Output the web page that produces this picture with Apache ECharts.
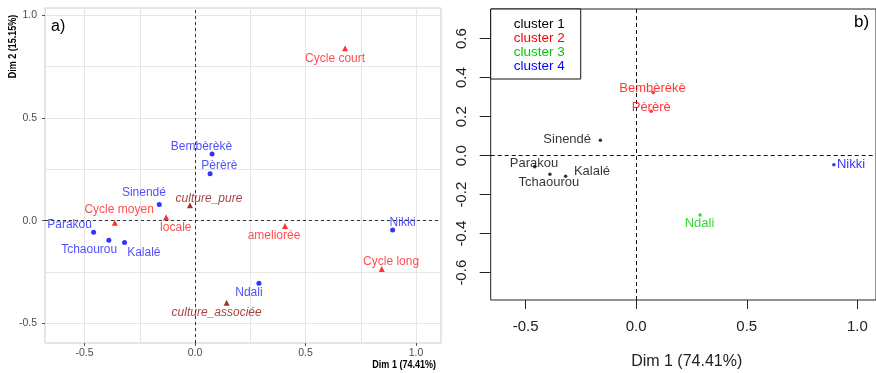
<!DOCTYPE html>
<html>
<head>
<meta charset="utf-8">
<script src="https://cdn.jsdelivr.net/npm/echarts@6/dist/echarts.min.js"></script>
<style>
  html, body { margin: 0; padding: 0; background: #ffffff; }
  #chart { width: 876px; height: 373px; }
</style>
</head>
<body>
<div id="chart"></div>
<script>
// Communes (individus) sur les dimensions 1 et 2
const individus = ['Parakou', 'Tchaourou', 'Kalalé', 'Sinendé', 'Bembèrèkè', 'Pèrèrè', 'Nikki', 'Ndali'];
const dim1Ind = [-0.459, -0.390, -0.319, -0.162, 0.077, 0.068, 0.894, 0.289];
const dim2Ind = [-0.057, -0.095, -0.106, 0.079, 0.324, 0.228, -0.046, -0.304];
const clusterInd = [1, 1, 1, 1, 2, 2, 4, 3];

// Modalités actives
const modalites = ['Cycle court', 'Cycle moyen', 'Cycle long', 'locale', 'ameliorée'];
const dim1Mod = [0.679, -0.363, 0.845, -0.131, 0.407];
const dim2Mod = [0.838, -0.010, -0.235, 0.017, -0.026];

// Modalités supplémentaires
const modalitesSup = ['culture_pure', 'culture_associée'];
const dim1Sup = [-0.023, 0.143];
const dim2Sup = [0.075, -0.399];

const clusters = ['cluster 1', 'cluster 2', 'cluster 3', 'cluster 4'];

// Graduations
const ticksAx = [-0.5, 0, 0.5, 1.0];
const ticksAy = [-0.5, 0, 0.5, 1.0];
const gridAx = [-0.5, -0.25, 0, 0.25, 0.5, 0.75, 1.0];
const gridAy = [-0.5, -0.25, 0, 0.25, 0.5, 0.75, 1.0];
const ticksBx = [-0.5, 0, 0.5, 1.0];
const ticksBy = [-0.6, -0.4, -0.2, 0, 0.2, 0.4, 0.6];

// ---- styles ----
const FONT = "'Liberation Sans', Arial, sans-serif";
const clusterColors = ['#000000', '#ff0000', '#00cd00', '#0000ff'];

// label offsets (px) around each mark, panel a
const placeA = {
  'Cycle court': [-10, 10.4], 'Bembèrèkè': [-10.6, -7.6], 'Pèrèrè': [9.3, -7.7],
  'Sinendé': [-15.3, -11.7], 'culture_pure': [19, -6.3], 'Cycle moyen': [4.3, -13.4],
  'locale': [9.7, 11], 'Parakou': [-24, -7.7], 'Tchaourou': [-19.7, 10],
  'Kalalé': [19.3, 10.3], 'ameliorée': [-11, 9.7], 'Nikki': [10, -7.7],
  'Cycle long': [9.3, -7], 'Ndali': [-10, 10], 'culture_associée': [-10, 10.3]
};
// label alignment and offsets, panel b
const placeB = {
  'Parakou': ['center', -0.7, -3.4], 'Tchaourou': ['center', -1, 8.4],
  'Kalalé': ['left', 8.3, -4.7], 'Sinendé': ['right', -9.3, -0.7],
  'Bembèrèkè': ['center', -0.7, -4], 'Pèrèrè': ['center', 0, -4],
  'Nikki': ['left', 3, 0], 'Ndali': ['center', -0.6, 8.6]
};

const fmt1 = v => (Math.abs(v) < 1e-9 ? 0 : v).toFixed(1);

function pointsA(names, xs, ys) {
  return names.map((n, i) => ({
    name: n,
    value: [xs[i], ys[i]],
    label: { offset: placeA[n] }
  }));
}

function refLines(xs, ys) {
  return xs.map(v => ({ xAxis: v })).concat(ys.map(v => ({ yAxis: v })));
}

function labelStyle(color, size, extra) {
  return Object.assign({
    show: true, position: 'inside', formatter: '{b}', color: color,
    fontSize: size, fontFamily: FONT, align: 'center', verticalAlign: 'middle',
    textBorderWidth: 0, textBorderColor: 'transparent', textShadowBlur: 0
  }, extra || {});
}

const series = [];

// panel a : grille
series.push({
  type: 'scatter', xAxisIndex: 0, yAxisIndex: 0, data: [], z: 1, silent: true,
  markLine: {
    z: 1, silent: true, symbol: 'none', label: { show: false }, animation: false,
    lineStyle: { color: '#e6e6e6', type: 'solid', width: 1 },
    data: refLines(gridAx, gridAy)
  }
});
// panel a : axes pointillés
series.push({
  type: 'scatter', xAxisIndex: 0, yAxisIndex: 0, data: [], z: 2, silent: true,
  markLine: {
    z: 2, silent: true, symbol: 'none', label: { show: false }, animation: false,
    lineStyle: { color: '#333333', type: [3, 3], width: 1 },
    data: refLines([0], [0])
  }
});
// panel a : individus
series.push({
  name: 'individus', type: 'scatter', xAxisIndex: 0, yAxisIndex: 0, z: 3,
  symbol: 'circle', symbolSize: 5,
  itemStyle: { color: '#0000ff' },
  label: labelStyle('#1f1fff', 12),
  data: pointsA(individus, dim1Ind, dim2Ind)
});
// panel a : modalités actives
series.push({
  name: 'modalites', type: 'scatter', xAxisIndex: 0, yAxisIndex: 0, z: 3,
  symbol: 'triangle', symbolSize: 6,
  itemStyle: { color: '#ff0000' },
  label: labelStyle('#ff1f1f', 12),
  data: pointsA(modalites, dim1Mod, dim2Mod)
});
// panel a : modalités supplémentaires
series.push({
  name: 'supplementaires', type: 'scatter', xAxisIndex: 0, yAxisIndex: 0, z: 3,
  symbol: 'triangle', symbolSize: 6,
  itemStyle: { color: '#8b0000' },
  label: labelStyle('#8b1010', 12, { fontStyle: 'italic' }),
  data: pointsA(modalitesSup, dim1Sup, dim2Sup)
});

// panel b : axes pointillés
series.push({
  type: 'scatter', xAxisIndex: 1, yAxisIndex: 1, data: [], z: 2, silent: true,
  markLine: {
    z: 2, silent: true, symbol: 'none', label: { show: false }, animation: false,
    lineStyle: { color: '#111111', type: [4, 3], width: 1 },
    data: refLines([0], [0])
  }
});
// panel b : communes par cluster
clusters.forEach((c, k) => {
  const data = [];
  individus.forEach((n, i) => {
    if (clusterInd[i] !== k + 1) return;
    const p = placeB[n];
    data.push({ name: n, value: [dim1Ind[i], dim2Ind[i]],
                label: { align: p[0], offset: [p[1], p[2]] } });
  });
  series.push({
    name: c, type: 'scatter', xAxisIndex: 1, yAxisIndex: 1, z: 3,
    symbol: 'circle', symbolSize: 3.5,
    itemStyle: { color: clusterColors[k] },
    label: labelStyle(clusterColors[k], 13),
    data: data
  });
});

const option = {
  animation: false,
  backgroundColor: '#ffffff',
  textStyle: { fontFamily: FONT },
  grid: [
    { left: 45, top: 8, width: 396, height: 335, show: true,
      borderColor: '#cccccc', borderWidth: 1, backgroundColor: 'transparent' },
    { left: 490.7, top: 9, width: 392, height: 291, show: true,
      borderColor: '#222222', borderWidth: 1, backgroundColor: 'transparent' }
  ],
  xAxis: [
    { type: 'value', gridIndex: 0, min: -0.679, max: 1.113, position: 'bottom',
      axisLine: { show: false, onZero: false },
      axisTick: { show: true, customValues: ticksAx, length: 3, lineStyle: { color: '#555555' } },
      axisLabel: { customValues: ticksAx, formatter: fmt1, color: '#4d4d4d', fontSize: 10.5, margin: 5 },
      splitLine: { show: false } },
    { type: 'value', gridIndex: 1, min: -0.6578, max: 1.0844, position: 'bottom',
      axisLine: { show: false, onZero: false },
      axisTick: { show: true, customValues: ticksBx, length: 9, lineStyle: { color: '#222222' } },
      axisLabel: { customValues: ticksBx, formatter: fmt1, color: '#222222', fontSize: 15, margin: 19 },
      splitLine: { show: false } }
  ],
  yAxis: [
    { type: 'value', gridIndex: 0, min: -0.595, max: 1.034, position: 'left',
      axisLine: { show: false, onZero: false },
      axisTick: { show: true, customValues: ticksAy, length: 3, lineStyle: { color: '#555555' } },
      axisLabel: { customValues: ticksAy, formatter: fmt1, color: '#4d4d4d', fontSize: 10.5, margin: 8 },
      splitLine: { show: false } },
    { type: 'value', gridIndex: 1, min: -0.740, max: 0.7523, position: 'left',
      axisLine: { show: false, onZero: false },
      axisTick: { show: true, customValues: ticksBy, length: 11, lineStyle: { color: '#222222' } },
      axisLabel: { customValues: ticksBy, formatter: fmt1, color: '#222222', fontSize: 15,
                   rotate: 90, margin: 21 },
      splitLine: { show: false } }
  ],
  legend: {
    data: clusters.map((c, k) => ({ name: c, icon: 'none', textStyle: { color: clusterColors[k] } })),
    orient: 'vertical', left: 490.7, top: 9,
    itemWidth: 0, itemHeight: 10, itemGap: 0,
    textStyle: { fontSize: 13.5, lineHeight: 13.8, fontFamily: FONT },
    padding: [8, 16, 6, 18],
    borderColor: '#111111', borderWidth: 1, backgroundColor: '#ffffff',
    selectedMode: false
  },
  graphic: [
    { type: 'text', left: 51, top: 19, silent: true,
      style: { text: 'a)', fontSize: 16, fontFamily: FONT, fill: '#000000' } },
    { type: 'text', left: 854, top: 14, silent: true,
      style: { text: 'b)', fontSize: 17, fontFamily: FONT, fill: '#000000' } },
    { type: 'text', x: 13, y: 46.5, rotation: Math.PI / 2, scaleX: 0.82, silent: true,
      style: { text: 'Dim 2 (15.15%)', fontSize: 11, fontWeight: 'bold', fontFamily: FONT,
               fill: '#000000', align: 'center', verticalAlign: 'middle' } },
    { type: 'text', x: 436, y: 365, scaleX: 0.82, silent: true,
      style: { text: 'Dim 1 (74.41%)', fontSize: 11, fontWeight: 'bold', fontFamily: FONT,
               fill: '#000000', align: 'right', verticalAlign: 'middle' } },
    { type: 'text', x: 686.7, y: 361.7, silent: true,
      style: { text: 'Dim 1 (74.41%)', fontSize: 16, fontFamily: FONT,
               fill: '#222222', align: 'center', verticalAlign: 'middle' } }
  ],
  series: series
};

const chart = echarts.init(document.getElementById('chart'), null, { renderer: 'canvas' });
chart.setOption(option);
</script>
</body>
</html>
